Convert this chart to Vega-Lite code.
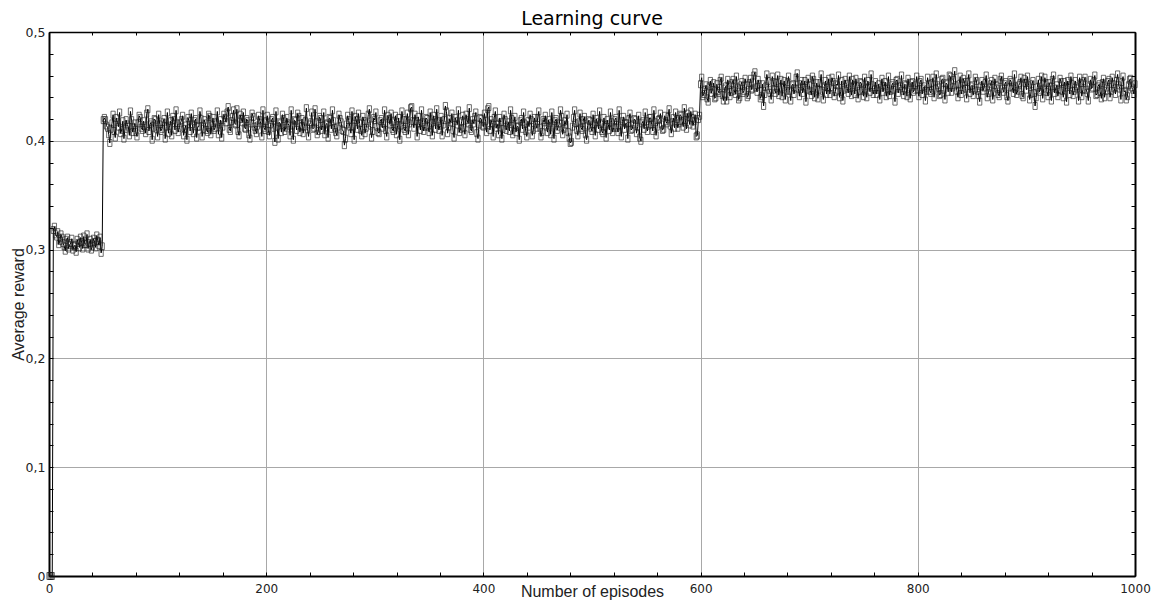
{
"$schema":"https://vega.github.io/schema/vega-lite/v6.json",
"width":1086,"height":544,
"autosize":{"type":"none"},
"padding":{"left":49,"top":32,"right":19,"bottom":26},
"background":"white",
"title":{"text":"Learning curve","font":"DejaVu Sans","fontSize":19,"fontWeight":"normal","color":"black","anchor":"middle","offset":-3},
"config":{"view":{"stroke":null}},
"data":{"values":[
{"e":0,"r":0},{"e":2,"r":0},{"e":4,"r":0.318},{"e":6,"r":0.314},{"e":8,"r":0.316},{"e":10,"r":0.308},{"e":12,"r":0.311},{"e":14,"r":0.303},{"e":16,"r":0.309},{"e":18,"r":0.301},{"e":20,"r":0.306},{"e":22,"r":0.300},{"e":24,"r":0.304},{"e":26,"r":0.309},{"e":28,"r":0.302},{"e":30,"r":0.307},{"e":32,"r":0.312},{"e":34,"r":0.305},{"e":36,"r":0.301},{"e":38,"r":0.309},{"e":40,"r":0.303},{"e":42,"r":0.307},{"e":44,"r":0.313},{"e":46,"r":0.304},{"e":48,"r":0.297},
{"e":50,"r":0.419},{"e":52,"r":0.419},{"e":54,"r":0.412},{"e":56,"r":0.398},{"e":58,"r":0.416},{"e":60,"r":0.409},{"e":62,"r":0.421},{"e":64,"r":0.413},{"e":66,"r":0.407},{"e":68,"r":0.418},{"e":70,"r":0.411},{"e":72,"r":0.415},{"e":74,"r":0.405},{"e":76,"r":0.419},{"e":78,"r":0.412},{"e":80,"r":0.408},{"e":82,"r":0.416},{"e":84,"r":0.421},{"e":86,"r":0.410},{"e":88,"r":0.414},{"e":90,"r":0.425},{"e":92,"r":0.409},{"e":94,"r":0.417},{"e":96,"r":0.412},{"e":98,"r":0.419},
{"e":100,"r":0.404},{"e":102,"r":0.415},{"e":104,"r":0.411},{"e":106,"r":0.420},{"e":108,"r":0.413},{"e":110,"r":0.407},{"e":112,"r":0.418},{"e":114,"r":0.422},{"e":116,"r":0.410},{"e":118,"r":0.416},{"e":120,"r":0.412},{"e":122,"r":0.419},{"e":124,"r":0.405},{"e":126,"r":0.414},{"e":128,"r":0.421},{"e":130,"r":0.409},{"e":132,"r":0.415},{"e":134,"r":0.418},{"e":136,"r":0.403},{"e":138,"r":0.413},{"e":140,"r":0.420},{"e":142,"r":0.411},{"e":144,"r":0.416},{"e":146,"r":0.408},{"e":148,"r":0.422},
{"e":150,"r":0.414},{"e":152,"r":0.410},{"e":154,"r":0.417},{"e":156,"r":0.406},{"e":158,"r":0.419},{"e":160,"r":0.413},{"e":162,"r":0.421},{"e":164,"r":0.426},{"e":166,"r":0.411},{"e":168,"r":0.418},{"e":170,"r":0.428},{"e":172,"r":0.415},{"e":174,"r":0.409},{"e":176,"r":0.424},{"e":178,"r":0.417},{"e":180,"r":0.412},{"e":182,"r":0.420},{"e":184,"r":0.406},{"e":186,"r":0.416},{"e":188,"r":0.422},{"e":190,"r":0.410},{"e":192,"r":0.414},{"e":194,"r":0.419},{"e":196,"r":0.404},{"e":198,"r":0.412},
{"e":200,"r":0.418},{"e":202,"r":0.409},{"e":204,"r":0.415},{"e":206,"r":0.421},{"e":208,"r":0.399},{"e":210,"r":0.413},{"e":212,"r":0.417},{"e":214,"r":0.408},{"e":216,"r":0.420},{"e":218,"r":0.412},{"e":220,"r":0.416},{"e":222,"r":0.405},{"e":224,"r":0.414},{"e":226,"r":0.419},{"e":228,"r":0.410},{"e":230,"r":0.422},{"e":232,"r":0.413},{"e":234,"r":0.407},{"e":236,"r":0.418},{"e":238,"r":0.411},{"e":240,"r":0.415},{"e":242,"r":0.426},{"e":244,"r":0.412},{"e":246,"r":0.417},{"e":248,"r":0.409},
{"e":250,"r":0.420},{"e":252,"r":0.414},{"e":254,"r":0.406},{"e":256,"r":0.416},{"e":258,"r":0.421},{"e":260,"r":0.411},{"e":262,"r":0.418},{"e":264,"r":0.408},{"e":266,"r":0.413},{"e":268,"r":0.420},{"e":270,"r":0.410},{"e":272,"r":0.396},{"e":274,"r":0.415},{"e":276,"r":0.419},{"e":278,"r":0.407},{"e":280,"r":0.413},{"e":282,"r":0.422},{"e":284,"r":0.411},{"e":286,"r":0.416},{"e":288,"r":0.405},{"e":290,"r":0.418},{"e":292,"r":0.412},{"e":294,"r":0.424},{"e":296,"r":0.414},{"e":298,"r":0.409},
{"e":300,"r":0.419},{"e":302,"r":0.413},{"e":304,"r":0.407},{"e":306,"r":0.420},{"e":308,"r":0.416},{"e":310,"r":0.410},{"e":312,"r":0.423},{"e":314,"r":0.415},{"e":316,"r":0.411},{"e":318,"r":0.418},{"e":320,"r":0.406},{"e":322,"r":0.421},{"e":324,"r":0.414},{"e":326,"r":0.419},{"e":328,"r":0.409},{"e":330,"r":0.425},{"e":332,"r":0.416},{"e":334,"r":0.431},{"e":336,"r":0.412},{"e":338,"r":0.418},{"e":340,"r":0.422},{"e":342,"r":0.410},{"e":344,"r":0.417},{"e":346,"r":0.413},{"e":348,"r":0.420},
{"e":350,"r":0.408},{"e":352,"r":0.416},{"e":354,"r":0.423},{"e":356,"r":0.411},{"e":358,"r":0.418},{"e":360,"r":0.414},{"e":362,"r":0.405},{"e":364,"r":0.419},{"e":366,"r":0.427},{"e":368,"r":0.413},{"e":370,"r":0.417},{"e":372,"r":0.410},{"e":374,"r":0.421},{"e":376,"r":0.415},{"e":378,"r":0.408},{"e":380,"r":0.418},{"e":382,"r":0.412},{"e":384,"r":0.424},{"e":386,"r":0.416},{"e":388,"r":0.411},{"e":390,"r":0.419},{"e":392,"r":0.422},{"e":394,"r":0.407},{"e":396,"r":0.415},{"e":398,"r":0.420},
{"e":400,"r":0.413},{"e":402,"r":0.418},{"e":404,"r":0.429},{"e":406,"r":0.410},{"e":408,"r":0.416},{"e":410,"r":0.421},{"e":412,"r":0.412},{"e":414,"r":0.406},{"e":416,"r":0.417},{"e":418,"r":0.411},{"e":420,"r":0.419},{"e":422,"r":0.414},{"e":424,"r":0.409},{"e":426,"r":0.420},{"e":428,"r":0.415},{"e":430,"r":0.408},{"e":432,"r":0.413},{"e":434,"r":0.418},{"e":436,"r":0.411},{"e":438,"r":0.416},{"e":440,"r":0.404},{"e":442,"r":0.413},{"e":444,"r":0.419},{"e":446,"r":0.410},{"e":448,"r":0.415},
{"e":450,"r":0.421},{"e":452,"r":0.412},{"e":454,"r":0.408},{"e":456,"r":0.417},{"e":458,"r":0.413},{"e":460,"r":0.419},{"e":462,"r":0.406},{"e":464,"r":0.414},{"e":466,"r":0.418},{"e":468,"r":0.410},{"e":470,"r":0.416},{"e":472,"r":0.422},{"e":474,"r":0.411},{"e":476,"r":0.415},{"e":478,"r":0.408},{"e":480,"r":0.398},{"e":482,"r":0.413},{"e":484,"r":0.428},{"e":486,"r":0.410},{"e":488,"r":0.417},{"e":490,"r":0.412},{"e":492,"r":0.419},{"e":494,"r":0.406},{"e":496,"r":0.414},{"e":498,"r":0.418},
{"e":500,"r":0.409},{"e":502,"r":0.415},{"e":504,"r":0.420},{"e":506,"r":0.411},{"e":508,"r":0.416},{"e":510,"r":0.407},{"e":512,"r":0.413},{"e":514,"r":0.419},{"e":516,"r":0.410},{"e":518,"r":0.417},{"e":520,"r":0.412},{"e":522,"r":0.421},{"e":524,"r":0.408},{"e":526,"r":0.414},{"e":528,"r":0.418},{"e":530,"r":0.411},{"e":532,"r":0.416},{"e":534,"r":0.420},{"e":536,"r":0.410},{"e":538,"r":0.415},{"e":540,"r":0.419},{"e":542,"r":0.413},{"e":544,"r":0.403},{"e":546,"r":0.416},{"e":548,"r":0.411},
{"e":550,"r":0.418},{"e":552,"r":0.414},{"e":554,"r":0.421},{"e":556,"r":0.409},{"e":558,"r":0.417},{"e":560,"r":0.413},{"e":562,"r":0.420},{"e":564,"r":0.415},{"e":566,"r":0.411},{"e":568,"r":0.418},{"e":570,"r":0.422},{"e":572,"r":0.414},{"e":574,"r":0.417},{"e":576,"r":0.412},{"e":578,"r":0.420},{"e":580,"r":0.416},{"e":582,"r":0.423},{"e":584,"r":0.413},{"e":586,"r":0.419},{"e":588,"r":0.425},{"e":590,"r":0.415},{"e":592,"r":0.421},{"e":594,"r":0.418},{"e":596,"r":0.404},{"e":598,"r":0.420},
{"e":600,"r":0.452},{"e":602,"r":0.441},{"e":604,"r":0.447},{"e":606,"r":0.439},{"e":608,"r":0.450},{"e":610,"r":0.444},{"e":612,"r":0.453},{"e":614,"r":0.440},{"e":616,"r":0.446},{"e":618,"r":0.455},{"e":620,"r":0.442},{"e":622,"r":0.448},{"e":624,"r":0.437},{"e":626,"r":0.451},{"e":628,"r":0.445},{"e":630,"r":0.456},{"e":632,"r":0.443},{"e":634,"r":0.449},{"e":636,"r":0.440},{"e":638,"r":0.454},{"e":640,"r":0.446},{"e":642,"r":0.451},{"e":644,"r":0.442},{"e":646,"r":0.457},{"e":648,"r":0.448},
{"e":650,"r":0.463},{"e":652,"r":0.445},{"e":654,"r":0.452},{"e":656,"r":0.441},{"e":658,"r":0.432},{"e":660,"r":0.450},{"e":662,"r":0.455},{"e":664,"r":0.444},{"e":666,"r":0.459},{"e":668,"r":0.447},{"e":670,"r":0.453},{"e":672,"r":0.442},{"e":674,"r":0.456},{"e":676,"r":0.449},{"e":678,"r":0.438},{"e":680,"r":0.454},{"e":682,"r":0.446},{"e":684,"r":0.451},{"e":686,"r":0.443},{"e":688,"r":0.458},{"e":690,"r":0.448},{"e":692,"r":0.452},{"e":694,"r":0.444},{"e":696,"r":0.455},{"e":698,"r":0.447},
{"e":700,"r":0.451},{"e":702,"r":0.442},{"e":704,"r":0.456},{"e":706,"r":0.448},{"e":708,"r":0.439},{"e":710,"r":0.453},{"e":712,"r":0.446},{"e":714,"r":0.450},{"e":716,"r":0.443},{"e":718,"r":0.457},{"e":720,"r":0.449},{"e":722,"r":0.454},{"e":724,"r":0.445},{"e":726,"r":0.451},{"e":728,"r":0.440},{"e":730,"r":0.455},{"e":732,"r":0.447},{"e":734,"r":0.452},{"e":736,"r":0.444},{"e":738,"r":0.449},{"e":740,"r":0.456},{"e":742,"r":0.443},{"e":744,"r":0.450},{"e":746,"r":0.446},{"e":748,"r":0.453},
{"e":750,"r":0.441},{"e":752,"r":0.448},{"e":754,"r":0.455},{"e":756,"r":0.445},{"e":758,"r":0.451},{"e":760,"r":0.447},{"e":762,"r":0.443},{"e":764,"r":0.452},{"e":766,"r":0.449},{"e":768,"r":0.445},{"e":770,"r":0.454},{"e":772,"r":0.448},{"e":774,"r":0.442},{"e":776,"r":0.451},{"e":778,"r":0.447},{"e":780,"r":0.455},{"e":782,"r":0.444},{"e":784,"r":0.450},{"e":786,"r":0.446},{"e":788,"r":0.452},{"e":790,"r":0.441},{"e":792,"r":0.449},{"e":794,"r":0.453},{"e":796,"r":0.445},{"e":798,"r":0.451},
{"e":800,"r":0.447},{"e":802,"r":0.454},{"e":804,"r":0.443},{"e":806,"r":0.450},{"e":808,"r":0.446},{"e":810,"r":0.452},{"e":812,"r":0.444},{"e":814,"r":0.458},{"e":816,"r":0.448},{"e":818,"r":0.451},{"e":820,"r":0.442},{"e":822,"r":0.456},{"e":824,"r":0.447},{"e":826,"r":0.453},{"e":828,"r":0.445},{"e":830,"r":0.459},{"e":832,"r":0.449},{"e":834,"r":0.464},{"e":836,"r":0.446},{"e":838,"r":0.452},{"e":840,"r":0.443},{"e":842,"r":0.457},{"e":844,"r":0.448},{"e":846,"r":0.454},{"e":848,"r":0.444},
{"e":850,"r":0.451},{"e":852,"r":0.447},{"e":854,"r":0.455},{"e":856,"r":0.442},{"e":858,"r":0.450},{"e":860,"r":0.446},{"e":862,"r":0.453},{"e":864,"r":0.440},{"e":866,"r":0.449},{"e":868,"r":0.455},{"e":870,"r":0.445},{"e":872,"r":0.451},{"e":874,"r":0.443},{"e":876,"r":0.456},{"e":878,"r":0.448},{"e":880,"r":0.452},{"e":882,"r":0.441},{"e":884,"r":0.449},{"e":886,"r":0.454},{"e":888,"r":0.444},{"e":890,"r":0.450},{"e":892,"r":0.446},{"e":894,"r":0.453},{"e":896,"r":0.442},{"e":898,"r":0.457},
{"e":900,"r":0.447},{"e":902,"r":0.451},{"e":904,"r":0.443},{"e":906,"r":0.455},{"e":908,"r":0.432},{"e":910,"r":0.449},{"e":912,"r":0.445},{"e":914,"r":0.459},{"e":916,"r":0.448},{"e":918,"r":0.453},{"e":920,"r":0.441},{"e":922,"r":0.450},{"e":924,"r":0.456},{"e":926,"r":0.444},{"e":928,"r":0.451},{"e":930,"r":0.447},{"e":932,"r":0.454},{"e":934,"r":0.440},{"e":936,"r":0.449},{"e":938,"r":0.455},{"e":940,"r":0.443},{"e":942,"r":0.452},{"e":944,"r":0.446},{"e":946,"r":0.450},{"e":948,"r":0.437},
{"e":950,"r":0.453},{"e":952,"r":0.447},{"e":954,"r":0.458},{"e":956,"r":0.444},{"e":958,"r":0.451},{"e":960,"r":0.448},{"e":962,"r":0.455},{"e":964,"r":0.442},{"e":966,"r":0.450},{"e":968,"r":0.445},{"e":970,"r":0.453},{"e":972,"r":0.440},{"e":974,"r":0.449},{"e":976,"r":0.456},{"e":978,"r":0.446},{"e":980,"r":0.452},{"e":982,"r":0.443},{"e":984,"r":0.461},{"e":986,"r":0.448},{"e":988,"r":0.454},{"e":990,"r":0.445},{"e":992,"r":0.438},{"e":994,"r":0.451},{"e":996,"r":0.457},{"e":998,"r":0.447},{"e":1000,"r":0.452},
{"e":1,"r":0},{"e":3,"r":0},{"e":5,"r":0.321},{"e":7,"r":0.312},{"e":9,"r":0.305},{"e":11,"r":0.314},{"e":13,"r":0.306},{"e":15,"r":0.299},{"e":17,"r":0.311},{"e":19,"r":0.304},{"e":21,"r":0.310},{"e":23,"r":0.303},{"e":25,"r":0.298},{"e":27,"r":0.306},{"e":29,"r":0.311},{"e":31,"r":0.301},{"e":33,"r":0.305},{"e":35,"r":0.314},{"e":37,"r":0.306},{"e":39,"r":0.300},{"e":41,"r":0.310},{"e":43,"r":0.302},{"e":45,"r":0.308},{"e":47,"r":0.311},{"e":49,"r":0.303},
{"e":51,"r":0.421},{"e":53,"r":0.414},{"e":55,"r":0.406},{"e":57,"r":0.411},{"e":59,"r":0.424},{"e":61,"r":0.403},{"e":63,"r":0.417},{"e":65,"r":0.426},{"e":67,"r":0.410},{"e":69,"r":0.402},{"e":71,"r":0.419},{"e":73,"r":0.413},{"e":75,"r":0.427},{"e":77,"r":0.408},{"e":79,"r":0.416},{"e":81,"r":0.404},{"e":83,"r":0.423},{"e":85,"r":0.412},{"e":87,"r":0.418},{"e":89,"r":0.407},{"e":91,"r":0.429},{"e":93,"r":0.415},{"e":95,"r":0.401},{"e":97,"r":0.420},{"e":99,"r":0.411},
{"e":101,"r":0.424},{"e":103,"r":0.409},{"e":105,"r":0.417},{"e":107,"r":0.402},{"e":109,"r":0.426},{"e":111,"r":0.414},{"e":113,"r":0.405},{"e":115,"r":0.419},{"e":117,"r":0.428},{"e":119,"r":0.408},{"e":121,"r":0.416},{"e":123,"r":0.423},{"e":125,"r":0.411},{"e":127,"r":0.401},{"e":129,"r":0.418},{"e":131,"r":0.425},{"e":133,"r":0.407},{"e":135,"r":0.420},{"e":137,"r":0.413},{"e":139,"r":0.427},{"e":141,"r":0.404},{"e":143,"r":0.419},{"e":145,"r":0.410},{"e":147,"r":0.424},{"e":149,"r":0.406},
{"e":151,"r":0.421},{"e":153,"r":0.412},{"e":155,"r":0.427},{"e":157,"r":0.415},{"e":159,"r":0.403},{"e":161,"r":0.424},{"e":163,"r":0.417},{"e":165,"r":0.431},{"e":167,"r":0.409},{"e":169,"r":0.422},{"e":171,"r":0.416},{"e":173,"r":0.429},{"e":175,"r":0.405},{"e":177,"r":0.420},{"e":179,"r":0.426},{"e":181,"r":0.411},{"e":183,"r":0.418},{"e":185,"r":0.402},{"e":187,"r":0.425},{"e":189,"r":0.413},{"e":191,"r":0.407},{"e":193,"r":0.423},{"e":195,"r":0.416},{"e":197,"r":0.428},{"e":199,"r":0.410},
{"e":201,"r":0.423},{"e":203,"r":0.405},{"e":205,"r":0.419},{"e":207,"r":0.412},{"e":209,"r":0.427},{"e":211,"r":0.402},{"e":213,"r":0.416},{"e":215,"r":0.424},{"e":217,"r":0.409},{"e":219,"r":0.421},{"e":221,"r":0.414},{"e":223,"r":0.428},{"e":225,"r":0.401},{"e":227,"r":0.418},{"e":229,"r":0.425},{"e":231,"r":0.408},{"e":233,"r":0.420},{"e":235,"r":0.413},{"e":237,"r":0.430},{"e":239,"r":0.404},{"e":241,"r":0.417},{"e":243,"r":0.411},{"e":245,"r":0.429},{"e":247,"r":0.406},{"e":249,"r":0.422},
{"e":251,"r":0.410},{"e":253,"r":0.426},{"e":255,"r":0.415},{"e":257,"r":0.403},{"e":259,"r":0.420},{"e":261,"r":0.428},{"e":263,"r":0.412},{"e":265,"r":0.405},{"e":267,"r":0.424},{"e":269,"r":0.417},{"e":271,"r":0.409},{"e":273,"r":0.402},{"e":275,"r":0.423},{"e":277,"r":0.413},{"e":279,"r":0.427},{"e":281,"r":0.401},{"e":283,"r":0.419},{"e":285,"r":0.425},{"e":287,"r":0.410},{"e":289,"r":0.422},{"e":291,"r":0.407},{"e":293,"r":0.416},{"e":295,"r":0.429},{"e":297,"r":0.403},{"e":299,"r":0.421},
{"e":301,"r":0.426},{"e":303,"r":0.408},{"e":305,"r":0.418},{"e":307,"r":0.412},{"e":309,"r":0.428},{"e":311,"r":0.404},{"e":313,"r":0.420},{"e":315,"r":0.425},{"e":317,"r":0.409},{"e":319,"r":0.423},{"e":321,"r":0.414},{"e":323,"r":0.401},{"e":325,"r":0.427},{"e":327,"r":0.411},{"e":329,"r":0.419},{"e":331,"r":0.406},{"e":333,"r":0.430},{"e":335,"r":0.418},{"e":337,"r":0.424},{"e":339,"r":0.404},{"e":341,"r":0.416},{"e":343,"r":0.428},{"e":345,"r":0.409},{"e":347,"r":0.421},{"e":349,"r":0.413},
{"e":351,"r":0.426},{"e":353,"r":0.405},{"e":355,"r":0.419},{"e":357,"r":0.429},{"e":359,"r":0.410},{"e":361,"r":0.422},{"e":363,"r":0.415},{"e":365,"r":0.432},{"e":367,"r":0.407},{"e":369,"r":0.420},{"e":371,"r":0.425},{"e":373,"r":0.403},{"e":375,"r":0.418},{"e":377,"r":0.428},{"e":379,"r":0.411},{"e":381,"r":0.423},{"e":383,"r":0.406},{"e":385,"r":0.419},{"e":387,"r":0.430},{"e":389,"r":0.409},{"e":391,"r":0.416},{"e":393,"r":0.426},{"e":395,"r":0.402},{"e":397,"r":0.421},{"e":399,"r":0.414},
{"e":401,"r":0.425},{"e":403,"r":0.408},{"e":405,"r":0.431},{"e":407,"r":0.419},{"e":409,"r":0.404},{"e":411,"r":0.427},{"e":413,"r":0.415},{"e":415,"r":0.421},{"e":417,"r":0.402},{"e":419,"r":0.424},{"e":421,"r":0.410},{"e":423,"r":0.417},{"e":425,"r":0.428},{"e":427,"r":0.406},{"e":429,"r":0.422},{"e":431,"r":0.413},{"e":433,"r":0.401},{"e":435,"r":0.420},{"e":437,"r":0.426},{"e":439,"r":0.409},{"e":441,"r":0.418},{"e":443,"r":0.424},{"e":445,"r":0.405},{"e":447,"r":0.421},{"e":449,"r":0.412},
{"e":451,"r":0.427},{"e":453,"r":0.404},{"e":455,"r":0.419},{"e":457,"r":0.423},{"e":459,"r":0.408},{"e":461,"r":0.416},{"e":463,"r":0.426},{"e":465,"r":0.402},{"e":467,"r":0.420},{"e":469,"r":0.413},{"e":471,"r":0.428},{"e":473,"r":0.406},{"e":475,"r":0.418},{"e":477,"r":0.424},{"e":479,"r":0.403},{"e":481,"r":0.399},{"e":483,"r":0.421},{"e":485,"r":0.416},{"e":487,"r":0.405},{"e":489,"r":0.425},{"e":491,"r":0.410},{"e":493,"r":0.422},{"e":495,"r":0.401},{"e":497,"r":0.419},{"e":499,"r":0.412},
{"e":501,"r":0.424},{"e":503,"r":0.405},{"e":505,"r":0.417},{"e":507,"r":0.427},{"e":509,"r":0.409},{"e":511,"r":0.421},{"e":513,"r":0.403},{"e":515,"r":0.415},{"e":517,"r":0.426},{"e":519,"r":0.408},{"e":521,"r":0.419},{"e":523,"r":0.412},{"e":525,"r":0.428},{"e":527,"r":0.404},{"e":529,"r":0.422},{"e":531,"r":0.416},{"e":533,"r":0.402},{"e":535,"r":0.425},{"e":537,"r":0.411},{"e":539,"r":0.420},{"e":541,"r":0.407},{"e":543,"r":0.423},{"e":545,"r":0.400},{"e":547,"r":0.418},{"e":549,"r":0.426},
{"e":551,"r":0.409},{"e":553,"r":0.421},{"e":555,"r":0.415},{"e":557,"r":0.428},{"e":559,"r":0.405},{"e":561,"r":0.419},{"e":563,"r":0.425},{"e":565,"r":0.410},{"e":567,"r":0.423},{"e":569,"r":0.416},{"e":571,"r":0.429},{"e":573,"r":0.407},{"e":575,"r":0.421},{"e":577,"r":0.426},{"e":579,"r":0.412},{"e":581,"r":0.424},{"e":583,"r":0.418},{"e":585,"r":0.430},{"e":587,"r":0.411},{"e":589,"r":0.422},{"e":591,"r":0.427},{"e":593,"r":0.414},{"e":595,"r":0.424},{"e":597,"r":0.405},{"e":599,"r":0.423},
{"e":601,"r":0.458},{"e":603,"r":0.443},{"e":605,"r":0.451},{"e":607,"r":0.436},{"e":609,"r":0.455},{"e":611,"r":0.447},{"e":613,"r":0.439},{"e":615,"r":0.452},{"e":617,"r":0.444},{"e":619,"r":0.458},{"e":621,"r":0.437},{"e":623,"r":0.450},{"e":625,"r":0.456},{"e":627,"r":0.441},{"e":629,"r":0.453},{"e":631,"r":0.446},{"e":633,"r":0.459},{"e":635,"r":0.438},{"e":637,"r":0.451},{"e":639,"r":0.444},{"e":641,"r":0.457},{"e":643,"r":0.440},{"e":645,"r":0.453},{"e":647,"r":0.447},{"e":649,"r":0.460},
{"e":651,"r":0.449},{"e":653,"r":0.456},{"e":655,"r":0.439},{"e":657,"r":0.452},{"e":659,"r":0.443},{"e":661,"r":0.461},{"e":663,"r":0.447},{"e":665,"r":0.438},{"e":667,"r":0.454},{"e":669,"r":0.444},{"e":671,"r":0.460},{"e":673,"r":0.449},{"e":675,"r":0.441},{"e":677,"r":0.455},{"e":679,"r":0.446},{"e":681,"r":0.459},{"e":683,"r":0.437},{"e":685,"r":0.452},{"e":687,"r":0.448},{"e":689,"r":0.462},{"e":691,"r":0.441},{"e":693,"r":0.455},{"e":695,"r":0.449},{"e":697,"r":0.436},{"e":699,"r":0.457},
{"e":701,"r":0.446},{"e":703,"r":0.459},{"e":705,"r":0.440},{"e":707,"r":0.453},{"e":709,"r":0.447},{"e":711,"r":0.461},{"e":713,"r":0.438},{"e":715,"r":0.455},{"e":717,"r":0.449},{"e":719,"r":0.443},{"e":721,"r":0.458},{"e":723,"r":0.441},{"e":725,"r":0.452},{"e":727,"r":0.460},{"e":729,"r":0.445},{"e":731,"r":0.437},{"e":733,"r":0.456},{"e":735,"r":0.448},{"e":737,"r":0.459},{"e":739,"r":0.442},{"e":741,"r":0.451},{"e":743,"r":0.457},{"e":745,"r":0.439},{"e":747,"r":0.454},{"e":749,"r":0.446},
{"e":751,"r":0.458},{"e":753,"r":0.440},{"e":755,"r":0.450},{"e":757,"r":0.461},{"e":759,"r":0.443},{"e":761,"r":0.454},{"e":763,"r":0.447},{"e":765,"r":0.438},{"e":767,"r":0.457},{"e":769,"r":0.450},{"e":771,"r":0.441},{"e":773,"r":0.459},{"e":775,"r":0.446},{"e":777,"r":0.453},{"e":779,"r":0.436},{"e":781,"r":0.456},{"e":783,"r":0.448},{"e":785,"r":0.460},{"e":787,"r":0.442},{"e":789,"r":0.451},{"e":791,"r":0.457},{"e":793,"r":0.439},{"e":795,"r":0.454},{"e":797,"r":0.447},{"e":799,"r":0.459},
{"e":801,"r":0.441},{"e":803,"r":0.456},{"e":805,"r":0.448},{"e":807,"r":0.437},{"e":809,"r":0.458},{"e":811,"r":0.446},{"e":813,"r":0.453},{"e":815,"r":0.440},{"e":817,"r":0.461},{"e":819,"r":0.449},{"e":821,"r":0.443},{"e":823,"r":0.457},{"e":825,"r":0.438},{"e":827,"r":0.452},{"e":829,"r":0.460},{"e":831,"r":0.445},{"e":833,"r":0.456},{"e":835,"r":0.451},{"e":837,"r":0.440},{"e":839,"r":0.459},{"e":841,"r":0.447},{"e":843,"r":0.454},{"e":845,"r":0.439},{"e":847,"r":0.461},{"e":849,"r":0.450},
{"e":851,"r":0.442},{"e":853,"r":0.458},{"e":855,"r":0.446},{"e":857,"r":0.436},{"e":859,"r":0.455},{"e":861,"r":0.449},{"e":863,"r":0.460},{"e":865,"r":0.444},{"e":867,"r":0.452},{"e":869,"r":0.438},{"e":871,"r":0.457},{"e":873,"r":0.448},{"e":875,"r":0.441},{"e":877,"r":0.459},{"e":879,"r":0.445},{"e":881,"r":0.454},{"e":883,"r":0.437},{"e":885,"r":0.456},{"e":887,"r":0.449},{"e":889,"r":0.461},{"e":891,"r":0.443},{"e":893,"r":0.451},{"e":895,"r":0.458},{"e":897,"r":0.440},{"e":899,"r":0.453},
{"e":901,"r":0.459},{"e":903,"r":0.438},{"e":905,"r":0.452},{"e":907,"r":0.444},{"e":909,"r":0.440},{"e":911,"r":0.456},{"e":913,"r":0.447},{"e":915,"r":0.439},{"e":917,"r":0.458},{"e":919,"r":0.445},{"e":921,"r":0.453},{"e":923,"r":0.437},{"e":925,"r":0.460},{"e":927,"r":0.448},{"e":929,"r":0.441},{"e":931,"r":0.457},{"e":933,"r":0.446},{"e":935,"r":0.454},{"e":937,"r":0.436},{"e":939,"r":0.451},{"e":941,"r":0.459},{"e":943,"r":0.442},{"e":945,"r":0.455},{"e":947,"r":0.448},{"e":949,"r":0.458},
{"e":951,"r":0.441},{"e":953,"r":0.455},{"e":955,"r":0.447},{"e":957,"r":0.437},{"e":959,"r":0.456},{"e":961,"r":0.449},{"e":963,"r":0.460},{"e":965,"r":0.443},{"e":967,"r":0.452},{"e":969,"r":0.439},{"e":971,"r":0.457},{"e":973,"r":0.446},{"e":975,"r":0.454},{"e":977,"r":0.440},{"e":979,"r":0.458},{"e":981,"r":0.448},{"e":983,"r":0.455},{"e":985,"r":0.451},{"e":987,"r":0.438},{"e":989,"r":0.459},{"e":991,"r":0.446},{"e":993,"r":0.441},{"e":995,"r":0.456},{"e":997,"r":0.449},{"e":999,"r":0.443}
]},
"layer":[
{"mark":{"type":"line","color":"black","strokeWidth":1},
 "encoding":{
  "x":{"field":"e","type":"quantitative","scale":{"domain":[0,1000],"nice":false,"zero":false},
   "axis":{"orient":"bottom","values":[0,40,80,120,160,200,240,280,320,360,400,440,480,520,560,600,640,680,720,760,800,840,880,920,960,1000],
    "grid":true,"gridColor":"#a8a8a8","gridWidth":1,"gridOpacity":{"condition":{"test":"datum.value % 200 == 0","value":1},"value":0},
    "labelExpr":"datum.value % 200 == 0 ? format(datum.value,'d') : ''","labelFlush":false,
    "labelFont":"DejaVu Sans","labelFontSize":12,"labelColor":"#222","labelPadding":11,"labelBaseline":"top",
    "tickSize":-4,"tickColor":"black","tickWidth":1,"domainColor":"black","domainWidth":2,
    "title":"Number of episodes","titleFont":"Liberation Sans","titleFontSize":16,"titleFontWeight":"normal","titleColor":"#222","titleBaseline":"alphabetic","titleY":20}},
  "y":{"field":"r","type":"quantitative","scale":{"domain":[0,0.5],"nice":false,"zero":false},
   "axis":{"orient":"left","values":[0,0.02,0.04,0.06,0.08,0.1,0.12,0.14,0.16,0.18,0.2,0.22,0.24,0.26,0.28,0.3,0.32,0.34,0.36,0.38,0.4,0.42,0.44,0.46,0.48,0.5],
    "grid":true,"gridColor":"#a8a8a8","gridWidth":1,"gridOpacity":{"condition":{"test":"round(datum.value*50) % 5 == 0","value":1},"value":0},
    "labelExpr":"round(datum.value*50) % 5 == 0 ? replace(format(datum.value,'.1~f'),'.',',') : ''",
    "labelFont":"DejaVu Sans","labelFontSize":12.5,"labelColor":"#222","labelPadding":8,
    "tickSize":-4,"tickColor":"black","tickWidth":1,"domainColor":"black","domainWidth":2,
    "title":"Average reward","titleFont":"Liberation Sans","titleFontSize":16,"titleFontWeight":"normal","titleColor":"#222","titleBaseline":"middle","titleX":-31,"titleY":272,"titleAngle":-90}}
 }},
{"mark":{"type":"point","shape":"M-0.6,-1H0.6V1H-0.6Z","size":49,"filled":false,"color":"#1a1a1a","strokeWidth":0.7,"opacity":0.9},
 "encoding":{
  "x":{"field":"e","type":"quantitative","scale":{"domain":[0,1000],"nice":false,"zero":false},"axis":null},
  "y":{"field":"r","type":"quantitative","scale":{"domain":[0,0.5],"nice":false,"zero":false},"axis":null}
 }},
{"mark":{"type":"point","opacity":0},
 "encoding":{
  "x":{"field":"e","type":"quantitative","scale":{"domain":[0,1000],"nice":false,"zero":false},
   "axis":{"orient":"top","values":[0,40,80,120,160,200,240,280,320,360,400,440,480,520,560,600,640,680,720,760,800,840,880,920,960,1000],"labels":false,"grid":false,"tickSize":-3,"tickColor":"black","domainColor":"black","domainWidth":1.5,"title":null}},
  "y":{"field":"r","type":"quantitative","scale":{"domain":[0,0.5],"nice":false,"zero":false},
   "axis":{"orient":"right","values":[0,0.02,0.04,0.06,0.08,0.1,0.12,0.14,0.16,0.18,0.2,0.22,0.24,0.26,0.28,0.3,0.32,0.34,0.36,0.38,0.4,0.42,0.44,0.46,0.48,0.5],"labels":false,"grid":false,"tickSize":-4,"tickColor":"black","domainColor":"black","domainWidth":2,"title":null}}
 }}
],
"resolve":{"axis":{"x":"independent","y":"independent"}}
}
